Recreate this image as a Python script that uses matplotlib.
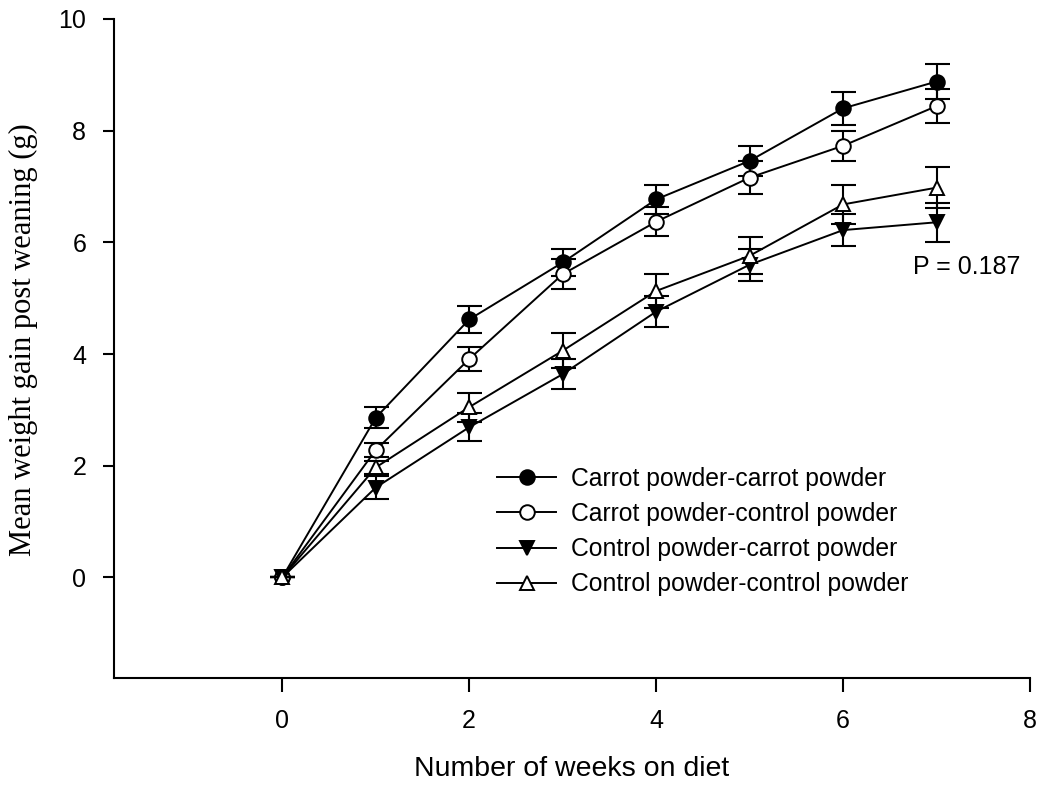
import matplotlib
matplotlib.use("Agg")
import matplotlib.pyplot as plt

# Weight gain post weaning, four diet groups
weeks = [0, 1, 2, 3, 4, 5, 6, 7]

carrot_carrot = [0, 2.86, 4.62, 5.64, 6.77, 7.46, 8.40, 8.88]
carrot_carrot_se = [0, 0.19, 0.24, 0.24, 0.26, 0.27, 0.30, 0.31]

carrot_control = [0, 2.28, 3.91, 5.43, 6.37, 7.16, 7.73, 8.44]
carrot_control_se = [0, 0.12, 0.22, 0.27, 0.26, 0.29, 0.27, 0.30]

control_carrot = [0, 1.61, 2.69, 3.64, 4.76, 5.60, 6.22, 6.36]
control_carrot_se = [0, 0.20, 0.25, 0.27, 0.28, 0.29, 0.28, 0.35]

control_control = [0, 1.97, 3.05, 4.06, 5.13, 5.76, 6.68, 6.98]
control_control_se = [0, 0.11, 0.26, 0.31, 0.31, 0.33, 0.35, 0.37]

labels = ["Carrot powder-carrot powder", "Carrot powder-control powder",
          "Control powder-carrot powder", "Control powder-control powder"]

sans = ["Liberation Sans", "DejaVu Sans"]
serif = ["Liberation Serif", "DejaVu Serif"]

fig = plt.figure(figsize=(10.4, 7.87), dpi=100)
ax = fig.add_axes([114/1040, 1-678/787, (1030-114)/1040, (678-19)/787])

series = [
    (carrot_carrot, carrot_carrot_se, "o", "black"),
    (carrot_control, carrot_control_se, "o", "white"),
    (control_carrot, control_carrot_se, "v", "black"),
    (control_control, control_control_se, "^", "white"),
]

for i, (vals, se, mk, fc) in enumerate(series):
    ax.errorbar(weeks, vals, yerr=se, fmt="none", ecolor="black",
                elinewidth=1.5, capsize=9, capthick=1.5, zorder=2 + i)
    ax.plot(weeks, vals, color="black", lw=1.4, marker=mk, markersize=10.5,
            markerfacecolor=fc, markeredgecolor="black", markeredgewidth=1.4,
            label=labels[i], zorder=2.5 + i)

ax.set_xlim(-1.8, 8)
ax.set_ylim(-1.8, 10)
ax.set_xticks([0, 2, 4, 6, 8])
ax.set_yticks([0, 2, 4, 6, 8, 10])

for side in ["top", "right"]:
    ax.spines[side].set_visible(False)
for side in ["left", "bottom"]:
    ax.spines[side].set_linewidth(1.5)

ax.tick_params(axis="y", direction="out", length=8, width=1.5, pad=12)
ax.tick_params(axis="x", direction="out", length=10, width=1.5, pad=12)
for t in ax.get_xticklabels() + ax.get_yticklabels():
    t.set_family(sans)
    t.set_fontsize(18)

ax.set_xlabel("Number of weeks on diet", family=sans, fontsize=20.5, labelpad=17)
ax.set_ylabel("Mean weight gain post weaning (g)", family=serif, fontsize=22)
ax.yaxis.set_label_coords(-0.083, 0.513)

ax.text(6.75, 5.56, "P = 0.187", family=sans, fontsize=18, va="center", ha="left")

leg = ax.legend(loc="upper left", bbox_to_anchor=(497/1040, 1-467/787),
                bbox_transform=fig.transFigure, frameon=False, borderpad=0,
                borderaxespad=0, handlelength=2.4, handletextpad=0.6,
                labelspacing=0.45, prop={"family": sans, "size": 17.8})

fig.savefig("out.png", dpi=100)
